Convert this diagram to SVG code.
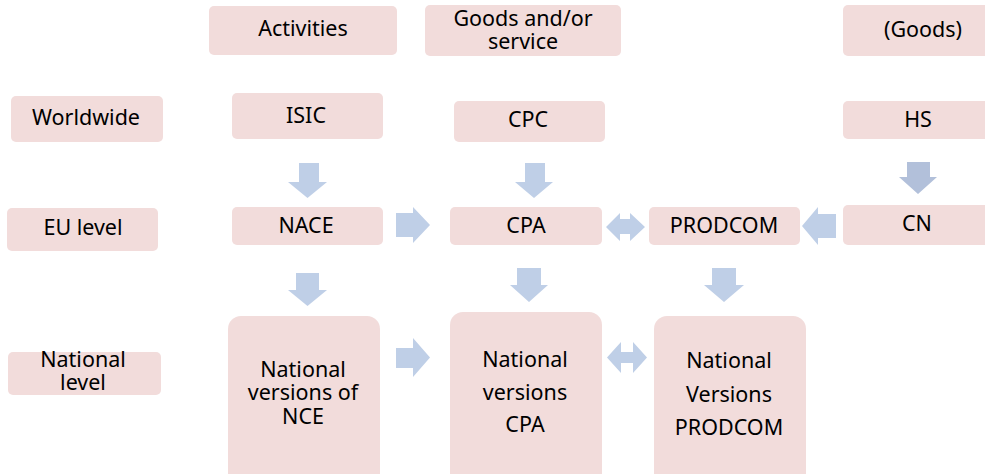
<svg xmlns="http://www.w3.org/2000/svg" width="985" height="474" viewBox="0 0 985 474">
<style>
.box{fill:#f2dcdb;}
.t{font-family:"Noto Sans","Open Sans","DejaVu Sans",sans-serif;font-size:21.5px;fill:#000;text-anchor:middle;}
.ar{fill:#bfcfe7;}
.ar2{fill:#b2c0da;}
</style>
<rect width="985" height="474" fill="#ffffff"/>
<g id="n-activities"><rect class="box" x="209" y="6" width="188" height="49" rx="5"/><text class="t" x="303" y="36">Activities</text></g>
<g id="n-goods-service"><rect class="box" x="425" y="5" width="196" height="51" rx="5"/><text class="t" x="523" y="26">Goods and/or</text><text class="t" x="523" y="49">service</text></g>
<g id="n-goods"><rect class="box" x="843" y="5" width="160" height="51" rx="5"/><text class="t" x="923" y="37">(Goods)</text></g>
<g id="n-worldwide"><rect class="box" x="11" y="96" width="152" height="46" rx="5"/><text class="t" x="86" y="125">Worldwide</text></g>
<g id="n-isic"><rect class="box" x="232" y="93" width="151" height="46" rx="5"/><text class="t" x="306" y="123">ISIC</text></g>
<g id="n-cpc"><rect class="box" x="454" y="101" width="151" height="41" rx="5"/><text class="t" x="528" y="127">CPC</text></g>
<g id="n-hs"><rect class="box" x="843" y="101" width="160" height="38" rx="5"/><text class="t" x="918" y="127">HS</text></g>
<g id="n-eu"><rect class="box" x="7" y="208" width="151" height="43" rx="5"/><text class="t" x="83" y="235">EU level</text></g>
<g id="n-nace"><rect class="box" x="232" y="207" width="151" height="38" rx="5"/><text class="t" x="306" y="233">NACE</text></g>
<g id="n-cpa"><rect class="box" x="450" y="207" width="152" height="38" rx="5"/><text class="t" x="526" y="233">CPA</text></g>
<g id="n-prodcom"><rect class="box" x="649" y="207" width="151" height="38" rx="5"/><text class="t" x="724" y="233">PRODCOM</text></g>
<g id="n-cn"><rect class="box" x="843" y="205" width="160" height="40" rx="5"/><text class="t" x="917" y="231">CN</text></g>
<g id="n-national"><rect class="box" x="8" y="352" width="153" height="43" rx="5"/><text class="t" x="83" y="367">National</text><text class="t" x="83" y="390">level</text></g>
<g id="n-nat-nce"><rect class="box" x="228" y="316" width="152" height="175" rx="13"/><text class="t" x="303" y="377">National</text><text class="t" x="303" y="400">versions of</text><text class="t" x="303" y="424">NCE</text></g>
<g id="n-nat-cpa"><rect class="box" x="450" y="312" width="152" height="180" rx="13"/><text class="t" x="525" y="367">National</text><text class="t" x="525" y="400">versions</text><text class="t" x="525" y="432">CPA</text></g>
<g id="n-nat-prodcom"><rect class="box" x="654" y="316" width="152" height="175" rx="13"/><text class="t" x="729" y="368">National</text><text class="t" x="729" y="402">Versions</text><text class="t" x="729" y="435">PRODCOM</text></g>
<g id="connectors">
<polygon class="ar" points="299,163 319,163 319,182 327,182 307.5,198 288,182 299,182"/>
<polygon class="ar" points="525,163 545,163 545,182 553,182 534,198 515,182 525,182"/>
<polygon class="ar2" points="907,162 930,162 930,177 937,177 918,194 899,177 907,177"/>
<polygon class="ar" points="396,213 413,213 413,207 430,225 413,243 413,237 396,237"/>
<polygon class="ar" points="606,227 620,213 620,219 630,219 630,213 645,227 630,241 630,234 620,234 620,241"/>
<polygon class="ar" points="836,214 818,214 818,207 802,226 818,245 818,238 836,238"/>
<polygon class="ar" points="296,273 319,273 319,290 327,290 307.5,306 288,290 296,290"/>
<polygon class="ar" points="517,268 541,268 541,285 548,285 529,302 510,285 517,285"/>
<polygon class="ar" points="712,268 736,268 736,285 744,285 724,302 704,285 712,285"/>
<polygon class="ar" points="396,348 413,348 413,338 430,357.5 413,377 413,368 396,368"/>
<polygon class="ar" points="607,357.5 621,342 621,352 633,352 633,342 647,357.5 633,373 633,363 621,363 621,373"/>
</g>
</svg>
